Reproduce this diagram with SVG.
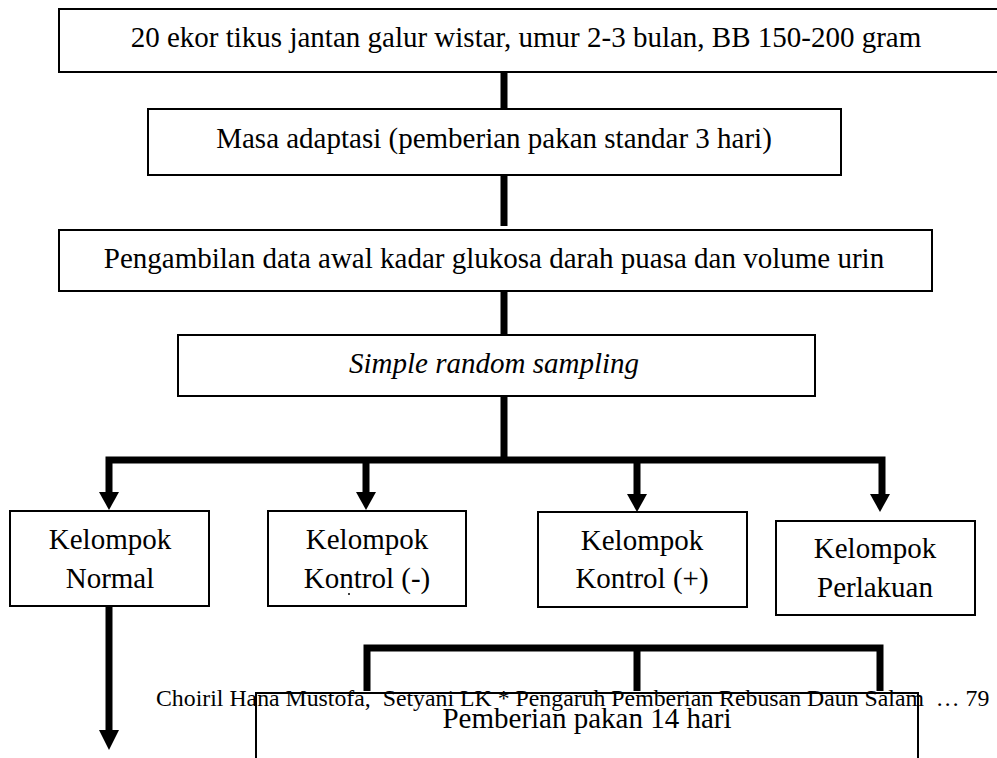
<svg xmlns="http://www.w3.org/2000/svg" width="997" height="758" viewBox="0 0 997 758">
<style>
.box{fill:#fff;stroke:#000;stroke-width:2}
.ln{stroke:#000;stroke-width:7;fill:none}
</style>
<rect width="997" height="758" fill="#fff"/>
<g id="connectors">
<line class="ln" x1="504" y1="69" x2="504" y2="115"/>
<line class="ln" x1="504" y1="175" x2="504" y2="226"/>
<line class="ln" x1="504" y1="286" x2="504" y2="340"/>
<line class="ln" x1="504" y1="396" x2="504" y2="460"/>
<polyline class="ln" points="109,492 109,460 882,460 882,494"/>
<line class="ln" x1="366" y1="460" x2="366" y2="492"/>
<line class="ln" x1="637" y1="460" x2="637" y2="494"/>
<path d="M99,492 L119,492 L109,510 Z"/>
<path d="M356,492 L376,492 L366,510 Z"/>
<path d="M627,494 L647,494 L637,512 Z"/>
<path d="M870,494 L890,494 L880,512 Z"/>
<line class="ln" x1="109" y1="603" x2="109" y2="731"/>
<path d="M99,730 L119,730 L109,750 Z"/>
<polyline class="ln" points="367,691 367,648 880,648 880,691"/>
<line class="ln" x1="637" y1="648" x2="637" y2="691"/>
</g>
<g font-family="Liberation Serif, Times New Roman, serif" font-size="29" fill="#000" text-anchor="middle">
<g id="n1">
<rect class="box" x="59" y="9" width="945" height="63"/>
<text x="526" y="47">20 ekor tikus jantan galur wistar, umur 2-3 bulan, BB 150-200 gram</text>
</g>
<g id="n2">
<rect class="box" x="148" y="109" width="693" height="66"/>
<text x="494" y="148">Masa adaptasi (pemberian pakan standar 3 hari)</text>
</g>
<g id="n3">
<rect class="box" x="59" y="230" width="873" height="61"/>
<text x="494" y="268">Pengambilan data awal kadar glukosa darah puasa dan volume urin</text>
</g>
<g id="n4">
<rect class="box" x="178" y="335" width="637" height="61"/>
<text x="494" y="373" font-style="italic">Simple random sampling</text>
</g>
<g id="n5">
<rect class="box" x="10" y="511" width="199" height="95"/>
<text x="110" y="549">Kelompok</text>
<text x="110" y="588">Normal</text>
</g>
<g id="n6">
<rect class="box" x="268" y="511" width="198" height="95"/>
<text x="367" y="549">Kelompok</text>
<text x="367" y="588">Kontrol (-)</text>
<circle cx="349" cy="594" r="1" fill="#000"/>
</g>
<g id="n7">
<rect class="box" x="538" y="512" width="209" height="95"/>
<text x="642" y="550">Kelompok</text>
<text x="642" y="588">Kontrol (+)</text>
</g>
<g id="n8">
<rect class="box" x="776" y="521" width="199" height="94"/>
<text x="875" y="558">Kelompok</text>
<text x="875" y="597">Perlakuan</text>
</g>
<text x="156" y="706" font-size="23.8" text-anchor="start" xml:space="preserve">Choiril Hana Mustofa,  Setyani LK * Pengaruh Pemberian Rebusan Daun Salam  … 79</text>
<g id="n9">
<rect x="256" y="693" width="662" height="80" fill="none" stroke="#000" stroke-width="2"/>
<text x="587" y="728">Pemberian pakan 14 hari</text>
</g>
</g>
</svg>
